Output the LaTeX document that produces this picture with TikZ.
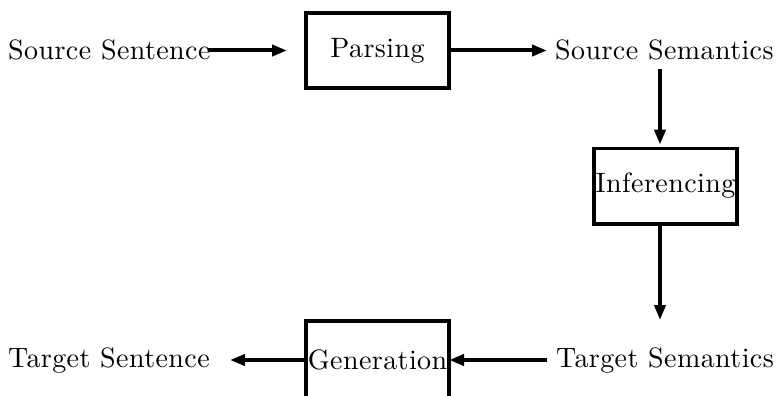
\documentclass[tikz,border=0pt]{standalone}
\usepackage{fontspec}
\setmainfont{lmroman10-regular}[Extension=.otf,LetterSpace=1.5]
\usetikzlibrary{arrows.meta}
\begin{document}
\begin{tikzpicture}[x=1pt,y=-1pt,
  every node/.style={font=\fontsize{28}{34}\selectfont},
  label/.style={inner sep=0pt},
  stage/.style={draw,line width=3.8pt,inner sep=0pt,
    minimum width=143.2pt,minimum height=75.2pt},
  arr/.style={line width=4pt,-{Triangle[length=15pt,width=11pt]}}]
\useasboundingbox (0,0) rectangle (777,396);
\clip (0,0) rectangle (777,396);

% text labels
\node[label,anchor=base west] (srcS)   at (8,60)    {Source Sentence};
\node[label,anchor=base west] (srcSem) at (555,60)  {Source Semantics};
\node[label,anchor=base west] (tgtSem) at (556,367) {Target Semantics};
\node[label,anchor=base west] (tgtS)   at (8,367)   {Target Sentence};

% processing stages
\node[stage] (parse) at (377.5,50.5) {Parsing};
\node[stage] (infer) at (665.5,186)  {Inferencing};
\node[stage,minimum height=78.2pt] (gen) at (377.5,360) {Generation};

% pipeline connectors
\draw[arr,shorten <=-3pt,shorten >=17pt] (parse.west -| srcS.east) -- (parse.west);
\draw[arr,shorten >=8pt] (parse.east) -- (parse.east -| srcSem.west);
\draw[arr,shorten <=8pt,shorten >=1.9pt]
  ([xshift=-5.5pt]infer.north |- srcSem.south) -- ([xshift=-5.5pt]infer.north);
\draw[arr,shorten >=27pt]
  ([xshift=-5.5pt]infer.south) -- ([xshift=-5.5pt]infer.south |- tgtSem.north);
\draw[arr,shorten <=9pt,shorten >=-1.9pt] (gen.east -| tgtSem.west) -- (gen.east);
\draw[arr,shorten >=20pt] (gen.west) -- (gen.west -| tgtS.east);
\end{tikzpicture}
\end{document}
